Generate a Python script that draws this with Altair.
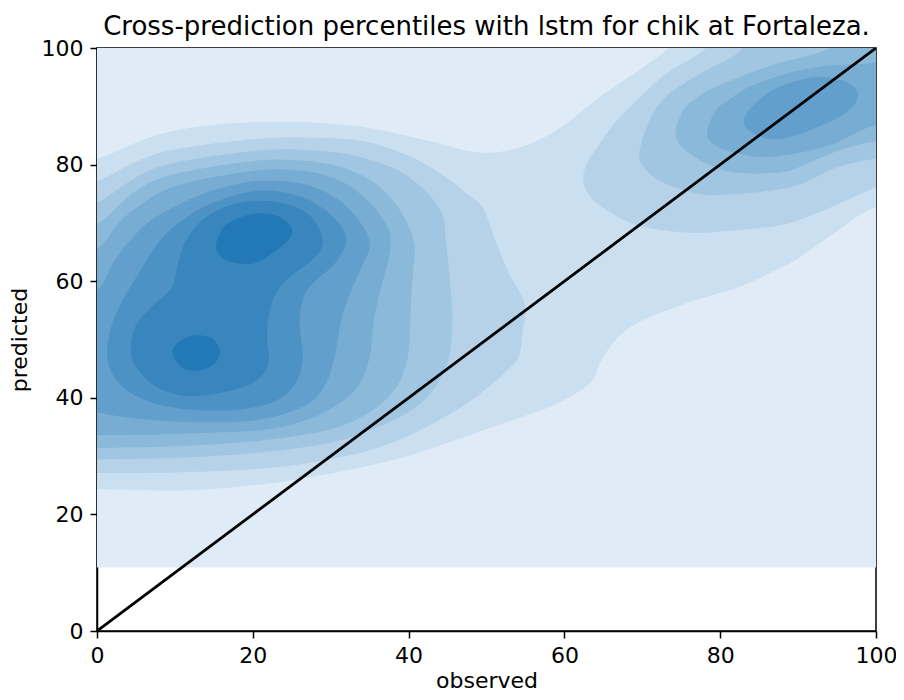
import altair as alt
import pandas as pd

# ---- data (percent units) ----
TITLE = "Cross-prediction percentiles with lstm for chik at Fortaleza."
X_TITLE = "observed"
Y_TITLE = "predicted"
TICKS = [0, 20, 40, 60, 80, 100]

DIAG_X = [0, 100]
DIAG_Y = [0, 100]

# lowest shaded level: a full-width band
L1_BAND = {"x": [0], "x2": [100], "y": [10.9], "y2": [100]}

# contour outlines, (observed, predicted) vertices
L2_ALL = [(-5, 80.5), (0, 81), (8, 85.2), (16.5, 87), (25.7, 87.3), (34.3, 86.4),
          (42.7, 84), (48.3, 82.2), (52.2, 82.3), (56.4, 84), (60.2, 87), (64.5, 91.6),
          (68.8, 95.5), (73, 99.5), (76, 103), (90, 106), (106, 106), (106, 72),
          (100, 72.7), (94.4, 68), (89.5, 63.5), (86.7, 61.6), (82.4, 59), (76, 56.4),
          (69.6, 53), (66.6, 50), (64.6, 46), (63.2, 42.4), (58.9, 38.9), (53, 36),
          (47.4, 33.4), (38.5, 29.5), (25.7, 26), (12.9, 24.2), (0, 24.3), (-5, 24.3)]

L3_LEFT = [(-5, 76.5), (0, 77.2), (5, 80.5), (10, 82.6), (20.6, 84.4), (28, 84.6),
           (34.3, 84.0), (40, 81.5), (44.5, 78.1), (47.5, 75), (49.6, 72.4), (51.2, 66.7),
           (53, 61), (54.5, 57.5), (55, 55), (54.6, 51), (54.1, 47), (52.5, 44.5),
           (49, 40.5), (45, 37), (40, 33.5), (35, 31), (28, 29), (20.6, 27.8), (10, 27.2),
           (0, 27.1), (-5, 27.1)]

L4_LEFT = [(-5, 72.5), (0, 73.5), (5, 77.8), (10, 80.3), (20.6, 82.4), (28, 82.4),
           (34, 81.2), (39.8, 78.1), (44, 72.4), (44.8, 66.7), (45.4, 58.7), (45.6, 53),
           (45.2, 47), (43.5, 42), (40.5, 38), (36, 35), (30, 32.3), (20.6, 30.6),
           (10, 29.7), (0, 29.4), (-5, 29.4)]

L5_LEFT = [(-5, 68.5), (0, 69.8), (5, 75.5), (10, 78.4), (20.6, 80.7), (27, 80.6),
           (32, 79.3), (36, 76.5), (39, 72), (40.7, 66.7), (40.6, 62), (40.4, 58.7),
           (40.2, 53), (39.9, 47), (38.5, 42), (35.5, 38), (30, 34.6), (20.6, 32.6),
           (10, 31.7), (0, 31.4), (-5, 31.4)]

L6_LEFT = [(-5, 63), (0, 65.5), (2.5, 69.5), (5, 72.5), (10, 76.3), (20.6, 79),
           (27, 78.8), (31.5, 77), (35, 73.5), (37.2, 69.5), (37.7, 66.7), (37.2, 62.5),
           (36.4, 58.7), (35.5, 53), (35, 47), (33.5, 42), (30.5, 38.5), (26, 35.8),
           (20.6, 34.4), (10, 33.8), (0, 33.6), (-5, 33.6)]

L7_LEFT = [(-5, 55.5), (0, 58.5), (2, 63), (4.05, 66.7), (7, 70.5), (11, 73.5),
           (15, 75.6), (20.6, 77.2), (26, 76.8), (30, 74.8), (33, 71.5), (35, 66.7),
           (34, 62.5), (32.7, 58.7), (31.3, 53), (30.5, 47), (29.2, 42), (26.5, 38.5),
           (20.6, 36.2), (13, 35.8), (6, 36.3), (2, 37), (0, 37.5), (-5, 38)]

L8_LEFT = [(1.3, 47), (1.8, 52), (3.2, 56.5), (5.2, 61), (7.9, 66.7), (11, 70.5),
           (15, 73.5), (20.6, 75.5), (25.5, 74.8), (29, 72.5), (31.3, 69.5), (32, 66.7),
           (30.5, 63), (28, 60), (26.6, 57.5), (26, 53), (26.4, 47), (25.5, 42.5),
           (23, 39.5), (19, 38.1), (14, 37.8), (9, 38.5), (5, 40.3), (2.5, 43)]

L9_LEFT = [(4.4, 47.2), (4.8, 51.8), (6.7, 55.2), (9.5, 58.7), (10.3, 62.5),
           (11.3, 66.7), (13.5, 70.5), (17, 73), (20.6, 73.8), (24.5, 73.2), (27.5, 71),
           (29, 66.7), (27.5, 63.5), (25, 61), (23.2, 58.5), (22.2, 55), (21.8, 50.5),
           (22, 46), (20.5, 43), (17.4, 41.3), (12.3, 40.3), (8.5, 41.3), (5.9, 43.8)]

L10_UPPER = [(15.3, 66.5), (16.3, 69.3), (18.5, 71), (21, 71.6), (23.5, 71), (25, 69),
             (24.5, 67), (22.5, 64.8), (20, 63), (17.3, 63.3), (15.7, 64.5)]

L10_LOWER = [(9.7, 47.7), (10.5, 49.6), (12.4, 50.7), (14.6, 50.3), (15.7, 48.3),
             (15.2, 46), (13.3, 44.7), (11, 45.1)]

L3_RIGHT = [(62.4, 77.2), (62.9, 80.3), (64.5, 83.5), (66.5, 87.2), (68.8, 90.4),
            (73, 95.5), (77.3, 99), (80, 102), (88, 106), (106, 106), (106, 77),
            (100, 76), (98.6, 75.3), (93, 72), (88, 69.7), (81.5, 68.7), (77, 68.3),
            (73, 68.7), (68.8, 69.8), (65, 72.6), (63.2, 74.8)]

L4_RIGHT = [(69.6, 81.8), (70.9, 87.5), (73, 91.6), (77.3, 95.5), (81.5, 98.4),
            (84, 101), (92, 106), (106, 106), (106, 81.5), (100, 81), (95, 79.5),
            (90, 76.5), (85, 75.3), (80, 74.8), (77.2, 75), (73, 76.7), (70.5, 79)]

L5_RIGHT = [(74.3, 85), (75.2, 89.2), (77, 91.5), (79.4, 93.3), (85.8, 96.7),
            (92.2, 99), (95, 100.5), (100, 103), (106, 104), (106, 84), (100, 84),
            (95, 82.3), (90, 79.5), (87.9, 78.7), (83, 78.5), (79.4, 79.5), (76, 82)]

L6_RIGHT = [(78.3, 85.2), (79.4, 89.2), (81.5, 91.5), (83.7, 93.3), (87, 95),
            (90, 96.1), (94, 97), (98.6, 97.3), (106, 98), (106, 86), (100, 86.7),
            (94.4, 83.5), (90, 82), (85.8, 81.3), (82, 82), (79.5, 83.2)]

L7_RIGHT = [(83, 87.5), (84.5, 90.5), (87.5, 93.3), (92.2, 95), (96, 94.3),
            (97.7, 92.1), (96.5, 89.3), (93, 86.7), (87.9, 84.4), (84.5, 85.2)]

LEVEL_COLORS = ["#dfecf7", "#cadff0", "#b5d2e9", "#a0c6e1", "#8bb9da",
                "#77acd3", "#629fcc", "#4d92c5", "#3886bd", "#2379b6"]

# (level index, outline) in drawing order
POLYGONS = [
    (1, L2_ALL),
    (2, L3_LEFT), (2, L3_RIGHT),
    (3, L4_LEFT), (3, L4_RIGHT),
    (4, L5_LEFT), (4, L5_RIGHT),
    (5, L6_LEFT), (5, L6_RIGHT),
    (6, L7_LEFT), (6, L7_RIGHT),
    (7, L8_LEFT),
    (8, L9_LEFT),
    (9, L10_UPPER), (9, L10_LOWER),
]

FONT = "DejaVu Sans"

xscale = alt.Scale(domain=[0, 100], nice=False, zero=False)
yscale = alt.Scale(domain=[0, 100], nice=False, zero=False)
xaxis = alt.Axis(values=TICKS, title=X_TITLE, grid=False)
yaxis = alt.Axis(values=TICKS, title=Y_TITLE, grid=False)


def X(field="x"):
    return alt.X(f"{field}:Q", scale=xscale, axis=xaxis)


def Y(field="y"):
    return alt.Y(f"{field}:Q", scale=yscale, axis=yaxis)


layers = []
band = pd.DataFrame(L1_BAND)
layers.append(
    alt.Chart(band).mark_rect(color=LEVEL_COLORS[0]).encode(
        x=X(), x2="x2:Q", y=Y(), y2="y2:Q")
)

for lvl, pts in POLYGONS:
    df = pd.DataFrame({"x": [p[0] for p in pts], "y": [p[1] for p in pts],
                       "i": list(range(len(pts)))})
    layers.append(
        alt.Chart(df).mark_line(filled=True, color=LEVEL_COLORS[lvl],
                                interpolate="cardinal-closed", clip=True).encode(
            x=X(), y=Y(), order="i:Q")
    )

diag = pd.DataFrame({"x": DIAG_X, "y": DIAG_Y})
layers.append(
    alt.Chart(diag).mark_line(color="black", strokeWidth=2.8, clip=True).encode(
        x=X(), y=Y())
)

chart = alt.layer(*layers).properties(
    width=779, height=583,
    title=alt.TitleParams(TITLE, font=FONT, fontSize=26, fontWeight="normal",
                          anchor="middle", color="black", offset=-3),
    autosize=alt.AutoSizeParams(type="none"),
    padding={"left": 89, "top": 40, "right": 20, "bottom": 60},
).configure_view(
    stroke="black", strokeWidth=1.5
).configure_axis(
    labelFont=FONT, titleFont=FONT, labelFontSize=22, titleFontSize=22,
    titleFontWeight="normal", labelColor="black", titleColor="black",
    domainColor="black", domainWidth=1.5, tickColor="black", tickWidth=1.5,
    tickSize=7, labelPadding=7, labelFlush=False
).configure_axisY(
    titlePadding=10
).configure_axisX(
    titlePadding=4
)

chart.save("out.html", embed_options={"renderer": "svg", "actions": False})
